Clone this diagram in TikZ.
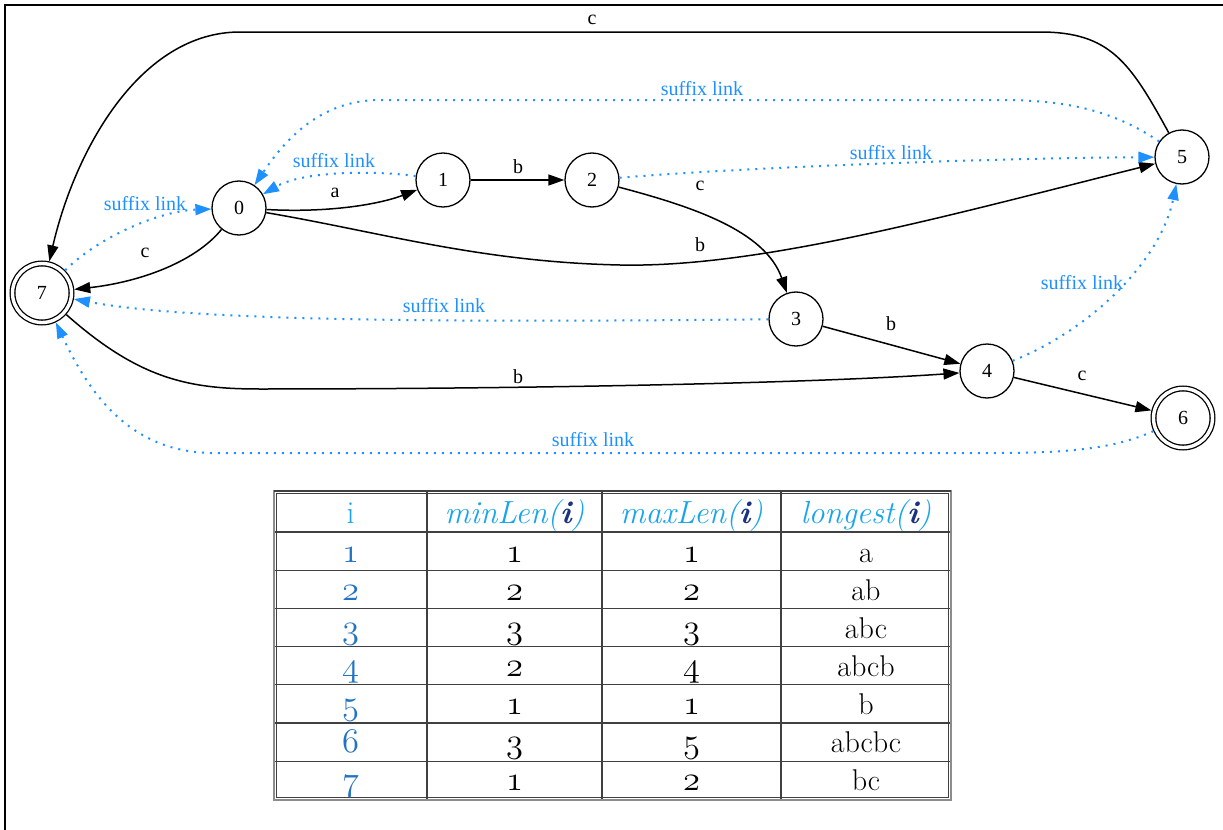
\documentclass[tikz,border=0pt]{standalone}
\usepackage{fontspec}
\newfontfamily\gv{Liberation Serif}
\usetikzlibrary{arrows.meta}
\definecolor{sl}{RGB}{30,144,255}
\definecolor{hdr}{RGB}{25,165,235}
\definecolor{idx}{RGB}{35,115,195}
\definecolor{navyi}{RGB}{25,50,130}
\newcommand\osn[1]{{\fontsize{17.28}{19}\usefont{OML}{cmm}{m}{it}#1}}
\newcommand\hi{{\color{navyi}\bfseries\itshape i}}
\begin{document}
\begin{tikzpicture}[x=0.5pt,y=-0.5pt,
  state/.style={circle,draw,line width=0.65pt,minimum size=27pt,inner sep=0pt,font=\gv\fontsize{10}{12}\selectfont},
  accept/.style={state,double,double distance=1.7pt,minimum size=29.5pt,outer sep=1.5pt},
  edge/.style={draw,line width=0.75pt,-{Triangle[length=8pt,width=5.5pt]}},
  slink/.style={draw=sl,line width=1pt,dash pattern=on 1pt off 3pt,-{Triangle[length=8pt,width=5.5pt,fill=sl]}},
  lbl/.style={inner sep=0pt,font=\gv\fontsize{10}{12}\selectfont},
  sllbl/.style={lbl,text=sl},
  cell/.style={anchor=base,inner sep=0pt,font=\fontsize{15}{18}\selectfont},
  hcell/.style={anchor=base,inner sep=0pt,text=hdr,font=\fontsize{16}{19}\selectfont\itshape},
  grid/.style={draw=black!75,line width=0.9pt}
]
\useasboundingbox (0,0) rectangle (1223,830);
\fill[white] (0,0) rectangle (1223,830);
% frame
\draw[line width=1pt] (5,830) -- (5,5) -- (1223,5);

% states
\node[state]  (n0) at (239,208) {0};
\node[state]  (n1) at (443,180) {1};
\node[state]  (n2) at (592,180) {2};
\node[state]  (n3) at (796,319) {3};
\node[state]  (n4) at (987,371) {4};
\node[state]  (n5) at (1182,157) {5};
\node[accept] (n6) at (1183,418) {6};
\node[accept] (n7) at (42,293) {7};

% transitions
\draw[edge] (n0) .. controls (330,213) and (380,204) .. (n1);
\draw[edge] (n1) -- (n2);
\draw[edge] (n2) .. controls (690,206) and (765,230) .. (n3);
\draw[edge] (n0) .. controls (380,232) and (480,262) .. (620,265)
               .. controls (760,268) and (950,215) .. (n5);
\draw[edge] (n0) .. controls (195,262) and (140,282) .. (n7);
\draw[edge] (n3) -- (n4);
\draw[edge] (n4) -- (n6);
\draw[edge] (n7) .. controls (140,380) and (190,389) .. (260,389)
               .. controls (500,389) and (800,384) .. (n4);
\draw[edge] (n5) .. controls (1130,62) and (1110,32) .. (1040,32)
               -- (240,32) .. controls (140,32) and (75,150) .. (n7);

\node[lbl] (la)  at (335,193) {a};
\node[lbl] (lb1) at (518,167) {b};
\node[lbl] (lc1) at (700,186) {c};
\node[lbl] (lb2) at (700,245) {b};
\node[lbl] (lc2) at (145,253) {c};
\node[lbl] (lb3) at (891,324) {b};
\node[lbl] (lc3) at (1082,376) {c};
\node[lbl] (lb4) at (518,377) {b};
\node[lbl] (lc4) at (592,20) {c};

% suffix links
\draw[slink] (n1) .. controls (380,171) and (305,170) .. (n0);
\draw[slink] (n5) .. controls (1110,108) and (1060,100) .. (1000,100)
               -- (380,100) .. controls (320,100) and (285,140) .. (n0);
\draw[slink] (n2) .. controls (750,167) and (1000,158) .. (n5);
\draw[slink] (n7) .. controls (100,236) and (160,211) .. (n0);
\draw[slink] (n3) .. controls (500,322) and (200,323) .. (n7);
\draw[slink] (n6) .. controls (1120,446) and (1080,453) .. (1000,453)
               -- (210,453) .. controls (130,451) and (90,395) .. (n7);
\draw[slink] (n4) .. controls (1090,330) and (1160,262) .. (n5);

\node[sllbl] (s10) at (334,161) {suffix link};
\node[sllbl] (s50) at (702,89)  {suffix link};
\node[sllbl] (s25) at (891,153) {suffix link};
\node[sllbl] (s70) at (145,204) {suffix link};
\node[sllbl] (s37) at (444,306) {suffix link};
\node[sllbl] (s67) at (593,440) {suffix link};
\node[sllbl] (s45) at (1082,283) {suffix link};

% table
\foreach \y in {532,570.5,608.5,646.5,684.5,723,761.5} \draw[grid] (274,\y) -- (951,\y);
\foreach \x in {427,602,781} \draw[grid] (\x,491) -- (\x,800);
\draw[draw=black!45,line width=1.3pt] (274,491) rectangle (951,800);
\draw[draw=black!75,line width=0.7pt] (276.5,493.5) rectangle (948.5,797.5);
\draw[draw=black!75,line width=1.2pt] (274,491) -- (951,491);

\node[hcell,font=\fontsize{16}{19}\selectfont] (h0) at (350.5,523) {i};
\node[hcell] (h1) at (514.5,523) {minLen(\hi)};
\node[hcell] (h2) at (691.5,523) {maxLen(\hi)};
\node[hcell] (h3) at (866,523) {longest(\hi)};

\foreach \r/\a/\b/\c/\s/\base in {1/1/1/1/a/562,2/2/2/2/ab/600,3/3/3/3/abc/638,4/4/2/4/abcb/676,5/5/1/1/b/714,6/6/3/5/abcbc/752,7/7/1/2/bc/790}{
  \node[cell,text=idx] (r\r c0) at (350.5,\base) {\osn{\a}};
  \node[cell] (r\r c1) at (514.5,\base) {\osn{\b}};
  \node[cell] (r\r c2) at (691.5,\base) {\osn{\c}};
  \node[cell] (r\r c3) at (866,\base) {\s};
}
\end{tikzpicture}
\end{document}
